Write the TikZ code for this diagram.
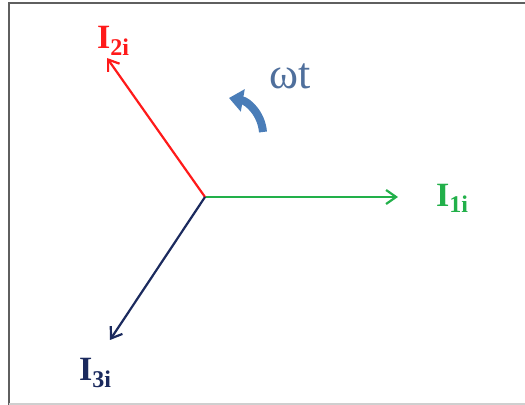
\documentclass[tikz,border=0pt]{standalone}
\usepackage{fontspec}
\setmainfont{Liberation Serif}
\usepackage{xcolor}
\definecolor{phRed}{HTML}{FF1A1A}
\definecolor{phGreen}{HTML}{22B04A}
\definecolor{phNavy}{HTML}{1B2A5E}
\definecolor{phSteel}{HTML}{4F6F9C}
\definecolor{phBlue}{HTML}{4A7DB8}
\definecolor{phFrame}{HTML}{5F5F5F}
\definecolor{phEdge}{HTML}{CFCFCF}
\usetikzlibrary{arrows.meta}

\begin{document}
\begin{tikzpicture}[
  x=0.5pt, y=0.5pt,
  >=Latex,
  phasor/.style={-{Straight Barb[length=5pt,width=7pt]}, line width=1.1pt},
  curlabel/.style={font=\fontsize{17}{17}\selectfont\bfseries, inner sep=0pt}
]
\useasboundingbox (0,0) rectangle (525,405);

% frame
\draw[phFrame, line width=1.3pt] (9,0) -- (9,402) -- (525,402);
\draw[phEdge, line width=1pt] (9,1) -- (525,1);

% phasor tips
\coordinate (o) at (205,208);
\coordinate (t1) at (398,208);
\coordinate (t2) at (107,347);
\coordinate (t3) at (110,65);

% Phasors
\draw[phasor, phGreen] (o) -- (t1);
\draw[phasor, phRed] (o) -- (t2);
\draw[phasor, phNavy] (o) -- (t3);

% Labels
\node[curlabel, text=phRed] (i2) at (113,364) {I\raisebox{-0.4ex}{\fontsize{12}{12}\selectfont 2i}};
\node[curlabel, text=phGreen] (i1) at (452,207) {I\raisebox{-0.4ex}{\fontsize{12}{12}\selectfont 1i}};
\node[curlabel, text=phNavy] (i3) at (95,32) {I\raisebox{-0.4ex}{\fontsize{12}{12}\selectfont 3i}};
\node[inner sep=0pt, text=phSteel, font=\fontsize{22}{22}\selectfont] (wt) at (290,329) {ωt};

% rotation sense
\coordinate (r0) at (263,273);
\coordinate (r1) at (229,307);
\draw[phBlue, line width=4pt, -{Triangle[length=7pt,width=11pt]}] (r0) to[out=95,in=-10] (r1);

\end{tikzpicture}
\end{document}
